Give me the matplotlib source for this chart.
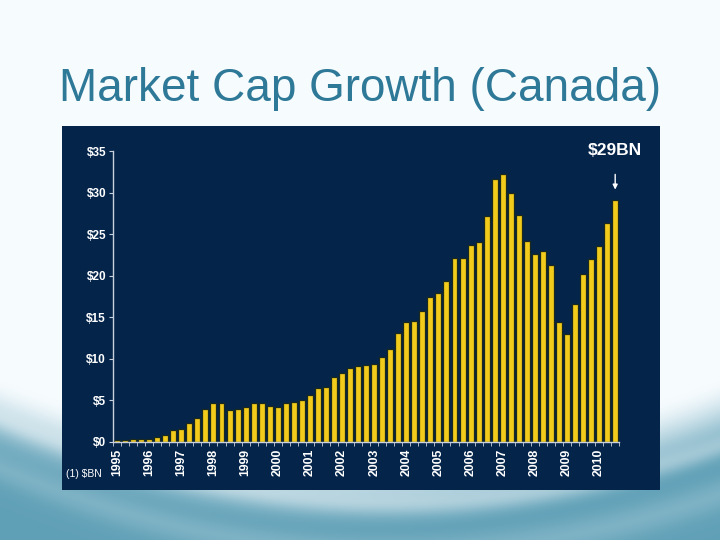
import numpy as np
import matplotlib.pyplot as plt

# ==========================================
# DATA: quarterly market cap, $BN (1995 Q1 .. 2010 Q3)
# ==========================================
years = list(range(1995, 2011))
market_cap = [
    0.15, 0.15, 0.29, 0.29,      # 1995
    0.30, 0.56, 0.76, 1.37,      # 1996
    1.49, 2.25, 2.85, 3.90,      # 1997
    4.66, 4.66, 3.78, 4.00,      # 1998
    4.14, 4.62, 4.66, 4.30,      # 1999
    4.14, 4.62, 4.74, 4.98,      # 2000
    5.58, 6.43, 6.55, 7.75,      # 2001
    8.23, 8.83, 9.10, 9.20,      # 2002
    9.32, 10.20, 11.16, 13.09,   # 2003
    14.41, 14.53, 15.74, 17.46,  # 2004
    17.94, 19.35, 22.08, 22.08,  # 2005
    23.65, 24.02, 27.17, 31.67,  # 2006
    32.23, 29.94, 27.29, 24.16,  # 2007
    22.60, 22.92, 21.27, 14.45,  # 2008
    13.00, 16.54, 20.15, 22.00,  # 2009
    23.56, 26.37, 29.14,         # 2010
]
y_ticks = [0, 5, 10, 15, 20, 25, 30, 35]
y_labels = ['$0', '$5', '$10', '$15', '$20', '$25', '$30', '$35']
callout = '$29BN'
title = 'Market Cap Growth (Canada)'

NAVY = '#04244a'
YELLOW = '#f3cb1b'
TITLE_COL = '#2e7898'

fig = plt.figure(figsize=(7.2, 5.4), dpi=100)

# --- slide background: light top, teal waves at the bottom ---
ax_bg = fig.add_axes([0, 0, 1, 1], zorder=0)
ax_bg.set_axis_off()
H, W = 540, 720
v, u = np.mgrid[0:H, 0:W]
v = v / H
u = u / W
b = 0.70 + 0.13 * (1 - ((u - 0.5) / 0.5) ** 2)
d = np.clip((v - b) / 0.16, 0, 1)
d = d * d * (3 - 2 * d)
top = np.array([0.965, 0.985, 0.995])
bot = np.array([0.38, 0.63, 0.72])
img = top[None, None, :] * (1 - d[..., None]) + bot[None, None, :] * d[..., None]
# lighter diagonal streaks inside the teal
b2 = b + 0.10 + 0.05 * (u - 0.5)
streak = 0.32 * np.exp(-((v - b2) / 0.022) ** 2) + 0.18 * np.exp(-((v - (b2 + 0.09)) / 0.03) ** 2)
img = img + (1 - img) * streak[..., None]
ax_bg.imshow(np.clip(img, 0, 1), extent=[0, 1, 0, 1], aspect='auto', origin='upper')
ax_bg.set_xlim(0, 1)
ax_bg.set_ylim(0, 1)

# Dark panel behind the chart
ax_panel = fig.add_axes([0.0861, 0.0926, 0.8306, 0.674], zorder=1)
ax_panel.set_facecolor(NAVY)
ax_panel.set_xticks([])
ax_panel.set_yticks([])
for s in ax_panel.spines.values():
    s.set_visible(False)
ax_panel.text(0.006, 0.045, '(1) $BN', ha='left', va='center', fontsize=7.5, color='white',
              family='Liberation Sans', transform=ax_panel.transAxes)

# Title
fig.text(0.5, 0.813, title, ha='center', va='baseline', fontsize=33,
         color=TITLE_COL, family='Liberation Sans')

# ==========================================
# BAR CHART
# ==========================================
ax = fig.add_axes([0.157, 0.182, 0.703, 0.538], zorder=2)
ax.set_facecolor('none')
x = np.arange(len(market_cap))
ax.bar(x, market_cap, width=0.74, color=YELLOW, edgecolor='#1b2a1c', linewidth=0.9)

ax.set_xlim(-0.5, len(market_cap) - 0.5)
ax.set_ylim(0, 35)

for side in ['top', 'right']:
    ax.spines[side].set_visible(False)
ax.spines['left'].set_color('#c8d0dc')
ax.spines['bottom'].set_color('#c8d0dc')
ax.spines['left'].set_linewidth(1.0)
ax.spines['bottom'].set_linewidth(1.0)

ax.set_yticks(y_ticks)
ax.set_yticklabels(y_labels, fontsize=8.5, fontweight='bold', color='white', family='Liberation Sans')
ax.tick_params(axis='y', length=3, color='#c8d0dc', pad=2)

ax.set_xticks([4 * i for i in range(len(years))])
ax.set_xticklabels([str(yr) for yr in years], rotation=90, fontsize=8.8, fontweight='bold',
                   color='white', family='Liberation Sans', va='top')
ax.set_xticks(np.arange(-0.5, len(market_cap), 1), minor=True)
ax.tick_params(axis='x', which='major', length=0, pad=5)
ax.tick_params(axis='x', which='minor', length=3, color='#c8d0dc')

# Callout on the last bar
last = len(market_cap) - 1
ax.annotate('', xy=(last, market_cap[-1] + 0.9), xytext=(last, market_cap[-1] + 3.4),
            arrowprops=dict(arrowstyle='-|>', color='white', lw=1.0, mutation_scale=7))
ax.text(last, 35.1, callout, ha='center', va='center', fontsize=12.5, fontweight='bold',
        color='white', family='Liberation Sans')

plt.savefig('out.png', dpi=100)
